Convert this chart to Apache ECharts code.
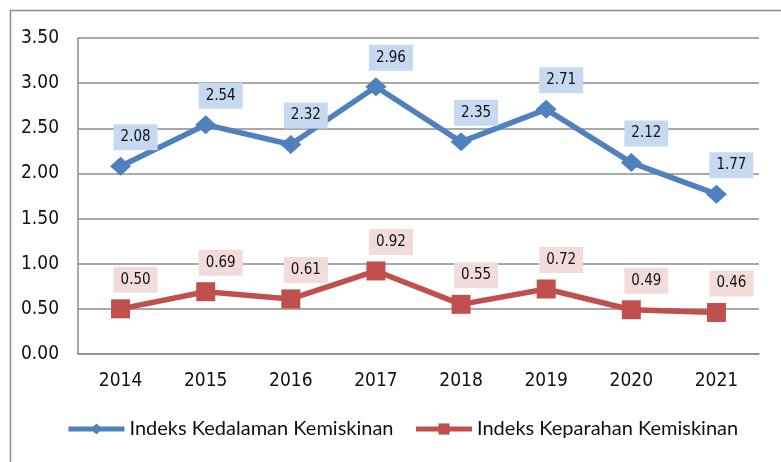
<!DOCTYPE html>
<html>
<head>
<meta charset="utf-8">
<script src="https://cdn.jsdelivr.net/npm/echarts@6/dist/echarts.min.js"></script>
<style>
    html, body {margin: 0; padding: 0; background: #fff;}
    #charts {width: 781px; height: 462px;}
</style>
</head>
<body>
<div id="charts"></div>
<script>
    var years = ['2014', '2015', '2016', '2017', '2018', '2019', '2020', '2021'];
    var kedalaman = [2.08, 2.54, 2.32, 2.96, 2.35, 2.71, 2.12, 1.77];
    var keparahan = [0.50, 0.69, 0.61, 0.92, 0.55, 0.72, 0.49, 0.46];
    var seriesNames = ['Indeks Kedalaman Kemiskinan', 'Indeks Keparahan Kemiskinan'];

    (function () {
        var dom = document.getElementById('charts');
        var myChart = echarts.init(dom, null, {renderer: 'canvas'});
        var narrow = '"DejaVu Sans Condensed", sans-serif';

        function label(bg) {
            return {
                show: true,
                position: 'inside',
                offset: [15, -29],
                fontFamily: narrow,
                fontSize: 15,
                color: '#111',
                backgroundColor: bg,
                padding: [6, 7, 5, 7],
                formatter: function (p) { return p.value.toFixed(2); }
            };
        }

        var option = {
            animation: false,
            graphic: [{
                type: 'rect',
                left: 8, top: 8,
                shape: {width: 800, height: 500},
                style: {fill: 'none', stroke: '#8c8c8c', lineWidth: 1.5}
            }],
            grid: {left: 78, right: 22, top: 38, bottom: 108},
            legend: {
                bottom: 18,
                left: 61,
                itemWidth: 56,
                itemHeight: 14,
                itemGap: 20,
                lineStyle: {width: 5},
                textStyle: {fontFamily: 'Lato, sans-serif', fontSize: 20, color: '#111'},
                data: seriesNames
            },
            xAxis: {
                type: 'category',
                data: years,
                boundaryGap: true,
                axisLine: {lineStyle: {color: '#8c8c8c', width: 1.5}},
                axisTick: {show: false},
                axisLabel: {fontFamily: narrow, fontSize: 19, color: '#111', margin: 18}
            },
            yAxis: {
                type: 'value',
                min: 0, max: 3.5, interval: 0.5,
                axisLine: {show: true, lineStyle: {color: '#8c8c8c', width: 1.5}},
                axisTick: {show: false},
                splitLine: {lineStyle: {color: '#8c8c8c', width: 1.5}},
                axisLabel: {
                    fontFamily: narrow, fontSize: 19, color: '#111', margin: 19,
                    formatter: function (v) { return v.toFixed(2); }
                }
            },
            series: [
                {
                    name: seriesNames[0],
                    type: 'line',
                    data: kedalaman,
                    symbol: 'diamond',
                    symbolSize: [21, 19],
                    lineStyle: {color: '#4F81BD', width: 5.5},
                    itemStyle: {color: '#4F81BD'},
                    label: label('#C6D9F1')
                },
                {
                    name: seriesNames[1],
                    type: 'line',
                    data: keparahan,
                    symbol: 'rect',
                    symbolSize: 19,
                    lineStyle: {color: '#C0504D', width: 5.5},
                    itemStyle: {color: '#C0504D'},
                    label: label('#F2DCDB')
                }
            ]
        };
        myChart.setOption(option, true);
    })();
</script>
</body>
</html>
